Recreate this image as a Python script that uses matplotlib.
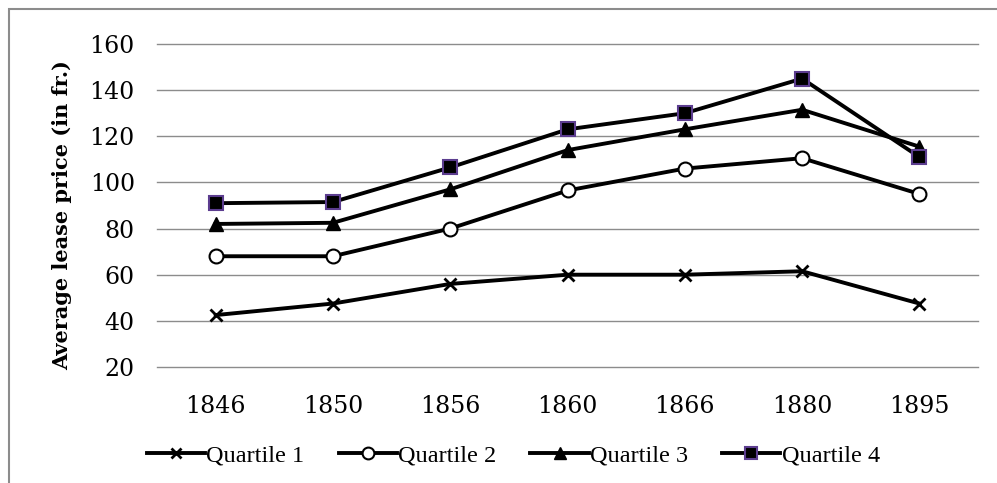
import matplotlib.pyplot as plt
from matplotlib.patches import Rectangle

years = ['1846', '1850', '1856', '1860', '1866', '1880', '1895']
quartile_1 = [42.5, 47.5, 56, 60, 60, 61.5, 47.5]
quartile_2 = [68, 68, 80, 96.5, 106, 110.5, 95]
quartile_3 = [82, 82.5, 97, 114, 123, 131.5, 115.5]
quartile_4 = [91, 91.5, 106.5, 123, 130, 145, 111]

plt.rcParams['font.family'] = ['DejaVu Serif']

fig = plt.figure(figsize=(9.97, 4.83), dpi=100)
# grey chart border, cut off at right and bottom like the reference
fig.add_artist(Rectangle((9 / 997, -0.05), 1.1, 1 - 9 / 483 + 0.05,
                         transform=fig.transFigure, fill=False,
                         edgecolor='#8c8c8c', linewidth=1.5))

ax = fig.add_axes([0.1575, 0.2402, 0.8235, 0.6687])
x = range(len(years))

ax.plot(x, quartile_1, color='black', linewidth=2.8, marker='x', markersize=9,
        markeredgewidth=2, label='Quartile 1', zorder=3)
ax.plot(x, quartile_2, color='black', linewidth=2.8, marker='o', markersize=10,
        markerfacecolor='white', markeredgecolor='black', markeredgewidth=1.5,
        label='Quartile 2', zorder=3)
ax.plot(x, quartile_3, color='black', linewidth=2.8, marker='^', markersize=10,
        label='Quartile 3', zorder=3)
ax.plot(x, quartile_4, color='black', linewidth=2.8, marker='s', markersize=10,
        markerfacecolor='black', markeredgecolor='#5c3d8f', markeredgewidth=1.5,
        label='Quartile 4', zorder=4)

ax.set_xlim(-0.5, len(years) - 0.5)
ax.set_ylim(20, 160)
ax.set_yticks(range(20, 161, 20))
ax.set_xticks(list(x))
ax.set_xticklabels(years)
ax.tick_params(axis='both', length=0, labelsize=17)
ax.tick_params(axis='x', pad=20)
ax.tick_params(axis='y', pad=16)
ax.grid(axis='y', color='#8c8c8c', linewidth=1)
for gl in ax.get_ygridlines():
    gl.set_clip_on(False)
ax.set_axisbelow(True)
for s in ax.spines.values():
    s.set_visible(False)

ax.set_ylabel('Average lease price (in fr.)', fontsize=15, fontweight='bold')
ax.yaxis.set_label_coords(-0.104, 0.47)

ax.legend(loc='center', bbox_to_anchor=(0.434, -0.275), ncol=4, frameon=False,
          prop={'family': 'Liberation Serif', 'size': 17.5},
          handlelength=2.4, handletextpad=0.05, columnspacing=1.4,
          markerscale=0.85)

fig.savefig('out.png', dpi=100)
